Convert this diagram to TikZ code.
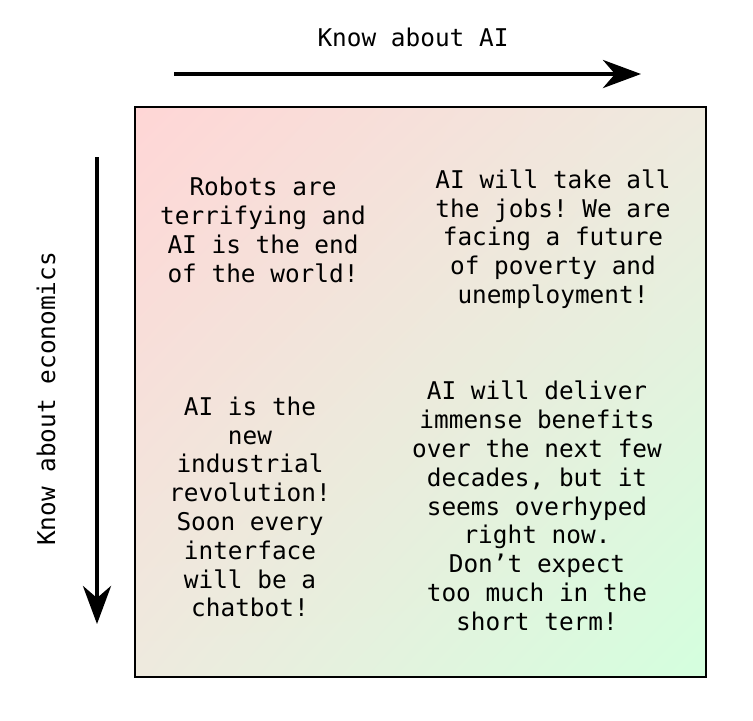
\documentclass[tikz,border=0pt]{standalone}
\usepackage{fontspec}
\setmonofont{DejaVu Sans Mono}
\usepackage{tikz}
\usetikzlibrary{arrows.meta,shadings}

\definecolor{scared}{RGB}{255,214,214}
\definecolor{middle}{RGB}{238,234,222}
\definecolor{calm}{RGB}{212,255,222}

\tikzset{
    quadtext/.style={align=center, font=\ttfamily\fontsize{12.2}{14.4}\selectfont, inner sep=0pt},
    axislabel/.style={font=\ttfamily\fontsize{12.2}{14.4}\selectfont, inner sep=0pt},
    axisarrow/.style={black, line width=2.3pt, -{Stealth[length=19pt, width=14pt, inset=6pt]}}
}

\begin{document}
\begin{tikzpicture}[x=0.5pt, y=-0.5pt]
    \useasboundingbox (0,0) rectangle (753,720);
    % draw box
    \shade[upper left=scared, upper right=middle, lower left=middle, lower right=calm] (135,107) rectangle (706,677);
    \draw[black, line width=1pt] (135,107) rectangle (706,677);
    % draw axis
    \node[axislabel] (ailabel) at (413,37) {Know about AI};
    \coordinate (aistart) at (174,74);
    \coordinate (aiend) at (641,74);
    \draw[axisarrow] (aistart) -- (aiend);
    \node[axislabel, rotate=90] (econlabel) at (46,399) {Know about economics};
    \coordinate (econstart) at (97,157);
    \coordinate (econend) at (97,624);
    \draw[axisarrow] (econstart) -- (econend);
    % quadrant texts
    \node[quadtext] (doom) at (263,230) {Robots are\\terrifying and\\AI is the end\\of the world!};
    \node[quadtext] (jobs) at (553,239) {AI will take all\\the jobs! We are\\facing a future\\of poverty and\\unemployment!};
    \node[quadtext] (hype) at (250,507) {AI is the\\new\\industrial\\revolution!\\Soon every\\interface\\will be a\\chatbot!};
    \node[quadtext] (sober) at (537,506) {AI will deliver\\immense benefits\\over the next few\\decades, but it\\seems overhyped\\right now.\\Don’t expect\\too much in the\\short term!};
\end{tikzpicture}
\end{document}
